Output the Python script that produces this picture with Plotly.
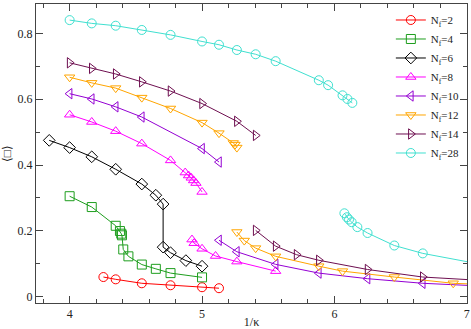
import plotly.graph_objects as go

# 1/kappa values and plaquette expectation values, per number of flavours
x_nf2 = [4.255, 4.348, 4.545, 4.762, 5.0, 5.128]
y_nf2 = [0.059, 0.052, 0.040, 0.034, 0.028, 0.025]

x_nf4 = [4.0, 4.167, 4.348, 4.38, 4.39, 4.395, 4.405, 4.444, 4.545, 4.651, 4.762, 5.0]
y_nf4 = [0.305, 0.272, 0.215, 0.199, 0.191, 0.186, 0.143, 0.122, 0.097, 0.084, 0.071, 0.058]

x_nf6 = [3.846, 4.0, 4.167, 4.348, 4.545, 4.651, 4.706, 4.706, 4.762, 4.878, 5.0]
y_nf6 = [0.475, 0.453, 0.425, 0.387, 0.342, 0.308, 0.281, 0.150, 0.133, 0.109, 0.092]

x_nf8_hi = [4.0, 4.167, 4.348, 4.545, 4.762, 4.873, 4.898, 4.918, 4.936, 4.954, 5.0]
y_nf8_hi = [0.553, 0.531, 0.503, 0.465, 0.414, 0.377, 0.368, 0.361, 0.353, 0.345, 0.318]
x_nf8_lo = [4.924, 4.94, 5.0, 5.102, 5.263, 5.556]
y_nf8_lo = [0.173, 0.162, 0.145, 0.123, 0.106, 0.077]

x_nf10_hi = [4.0, 4.167, 4.348, 4.545, 5.0, 5.128]
y_nf10_hi = [0.617, 0.601, 0.577, 0.546, 0.450, 0.409]
x_nf10_lo = [5.128, 5.263, 5.556, 5.882, 6.25, 6.667, 7.143]
y_nf10_lo = [0.171, 0.136, 0.0975, 0.071, 0.054, 0.040, 0.031]

x_nf12_hi = [4.0, 4.167, 4.348, 4.545, 4.762, 5.0, 5.128, 5.236, 5.249, 5.263]
y_nf12_hi = [0.667, 0.650, 0.634, 0.605, 0.572, 0.529, 0.497, 0.467, 0.462, 0.453]
x_nf12_lo = [5.263, 5.319, 5.405, 5.556, 5.882, 6.061, 6.452, 6.897, 7.143]
y_nf12_lo = [0.196, 0.170, 0.147, 0.122, 0.092, 0.077, 0.059, 0.040, 0.036]

x_nf14_hi = [4.0, 4.167, 4.348, 4.545, 4.762, 5.0, 5.263, 5.405]
y_nf14_hi = [0.711, 0.694, 0.677, 0.653, 0.625, 0.587, 0.533, 0.490]
x_nf14_lo = [5.405, 5.556, 5.714, 5.882, 6.25, 6.667, 7.143]
y_nf14_lo = [0.201, 0.153, 0.127, 0.110, 0.082, 0.059, 0.048]

x_nf28_hi = [4.0, 4.167, 4.348, 4.545, 4.762, 5.0, 5.128, 5.263, 5.405, 5.556,
             5.882, 5.952, 6.061, 6.098, 6.135]
y_nf28_hi = [0.841, 0.831, 0.824, 0.811, 0.796, 0.776, 0.766, 0.750, 0.737, 0.716,
             0.658, 0.643, 0.612, 0.601, 0.589]
x_nf28_lo = [6.075, 6.094, 6.11, 6.13, 6.173, 6.25, 6.452, 6.667, 7.143]
y_nf28_lo = [0.253, 0.241, 0.234, 0.226, 0.211, 0.193, 0.155, 0.131, 0.095]


def join(a, b):
    # two branches in one trace, not connected
    return a + [None] + b


series = [
    ("N<sub>f</sub>=2", x_nf2, y_nf2, "#FF0000", "circle-open"),
    ("N<sub>f</sub>=4", x_nf4, y_nf4, "#1E9E1E", "square-open"),
    ("N<sub>f</sub>=6", x_nf6, y_nf6, "#000000", "diamond-open"),
    ("N<sub>f</sub>=8", join(x_nf8_hi, x_nf8_lo), join(y_nf8_hi, y_nf8_lo), "#FF00FF", "triangle-up-open"),
    ("N<sub>f</sub>=10", join(x_nf10_hi, x_nf10_lo), join(y_nf10_hi, y_nf10_lo), "#9400D3", "triangle-left-open"),
    ("N<sub>f</sub>=12", join(x_nf12_hi, x_nf12_lo), join(y_nf12_hi, y_nf12_lo), "#FFA500", "triangle-down-open"),
    ("N<sub>f</sub>=14", join(x_nf14_hi, x_nf14_lo), join(y_nf14_hi, y_nf14_lo), "#6E0F50", "triangle-right-open"),
    ("N<sub>f</sub>=28", join(x_nf28_hi, x_nf28_lo), join(y_nf28_hi, y_nf28_lo), "#40E0D0", "circle-open"),
]

fig = go.Figure()
for name, xs, ys, color, symbol in series:
    fig.add_trace(
        go.Scatter(
            x=xs,
            y=ys,
            mode="lines+markers",
            name=name,
            connectgaps=False,
            line=dict(color=color, width=1),
            marker=dict(symbol=symbol, size=9, color=color, line=dict(color=color, width=1)),
        )
    )

axis_common = dict(
    showline=True,
    linecolor="#444444",
    linewidth=1,
    mirror="allticks",
    ticks="inside",
    ticklen=7,
    tickcolor="#444444",
    showgrid=False,
    zeroline=False,
    automargin=False,
    tickfont=dict(family="Liberation Serif", size=12, color="#222222"),
)

fig.update_layout(
    width=471,
    height=329,
    paper_bgcolor="white",
    plot_bgcolor="white",
    font=dict(family="Liberation Serif", size=12, color="#222222"),
    margin=dict(t=4, b=26, l=36, r=4),
    showlegend=True,
    legend=dict(
        x=0.995,
        y=0.995,
        xanchor="right",
        yanchor="top",
        bgcolor="rgba(0,0,0,0)",
        font=dict(family="Liberation Serif", size=11, color="#222222"),
        itemwidth=30,
        tracegroupgap=0,
    ),
    xaxis=dict(
        range=[3.746, 7.001],
        dtick=1,
        tick0=0,
        minor=dict(dtick=0.2, ticks="inside", ticklen=4, tickcolor="#444444"),
        title=dict(text="1/κ", standoff=0, font=dict(size=12)),
        **axis_common,
    ),
    yaxis=dict(
        range=[-0.02, 0.89],
        dtick=0.2,
        tick0=0,
        minor=dict(dtick=0.1, ticks="inside", ticklen=4, tickcolor="#444444"),
        title=dict(text="⟨□⟩", standoff=4, font=dict(size=12)),
        **axis_common,
    ),
)

# drop the page's default body margin so the figure sits at the window origin
fig.write_html(
    "out.html",
    config={"displayModeBar": False},
    post_script="document.body.style.margin='0';",
)
